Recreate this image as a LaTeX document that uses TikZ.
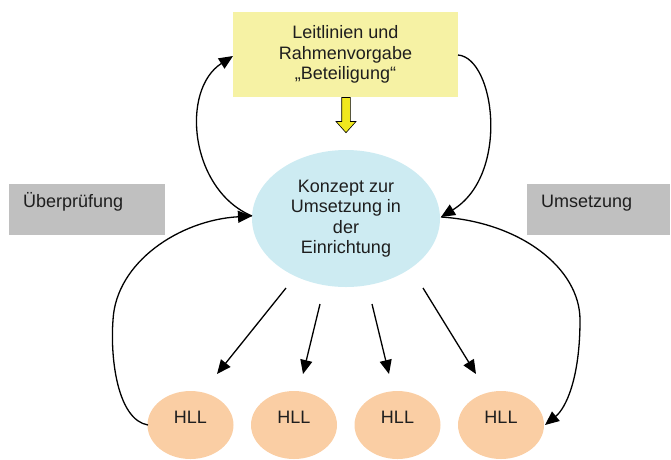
\documentclass[tikz,border=0pt]{standalone}
\usepackage{fontspec}
\setmainfont{Liberation Sans}
\usetikzlibrary{arrows.meta,shapes.geometric}
\definecolor{boxyellow}{RGB}{246,242,164}
\definecolor{arrowyellow}{RGB}{240,232,30}
\definecolor{conceptblue}{RGB}{205,235,242}
\definecolor{hllorange}{RGB}{250,206,164}
\definecolor{boxgrey}{RGB}{192,192,192}
\definecolor{txt}{RGB}{30,30,30}
\begin{document}
\begin{tikzpicture}[x=1pt,y=-1pt,
  every node/.style={text=txt,font=\fontsize{18}{20.5}\selectfont},
  guidebox/.style={draw=none,fill=boxyellow,minimum width=225pt,minimum height=85pt,align=center,inner sep=0pt},
  greybox/.style={draw=none,fill=boxgrey,minimum height=51pt,inner sep=0pt},
  concept/.style={ellipse,fill=conceptblue,minimum width=188pt,minimum height=137pt,align=center,inner sep=0pt},
  hll/.style={ellipse,fill=hllorange,minimum width=86pt,minimum height=68pt,inner sep=0pt,text height=13pt,text depth=17pt},
  greytext/.style={anchor=base west,inner sep=0pt},
  conn/.style={line width=1.3pt,draw=black,-{Triangle[length=14pt,width=12pt]}},
  plain/.style={line width=1.3pt,draw=black}]
\useasboundingbox (0,0) rectangle (671,459);
% boxes
\node[guidebox] (Y) at (345.5,54.5) {Leitlinien und\\Rahmenvorgabe\\„Beteiligung“};
\node[greybox,minimum width=156pt] (G1) at (87,209.5) {};
\node[greytext] (T1) at (23,207) {Überprüfung};
\node[greybox,minimum width=143pt] (G2) at (598.5,209.5) {};
\node[greytext] (T2) at (541,207) {Umsetzung};
\node[concept] (K) at (346,218.5) {Konzept zur\\Umsetzung in\\der\\Einrichtung};
\node[hll] (H1) at (190.5,425) {HLL};
\node[hll] (H2) at (294,425) {HLL};
\node[hll] (H3) at (397.5,425) {HLL};
\node[hll] (H4) at (501,425) {HLL};
% yellow arrow
\draw[fill=arrowyellow,draw=black,line width=0.6pt]
  (341.7,97.5) -- (350.3,97.5) -- (350.3,121.5) -- (356,121.5) -- (346,132.7)
  -- (336,121.5) -- (341.7,121.5) -- cycle;
% coordinates
\coordinate (KL) at (252,216);
\coordinate (KR) at (441,217);
\coordinate (YL) at (233,56);
\coordinate (YR) at (458,55);
\coordinate (H1L) at (148,425);
\coordinate (H4R) at (545,425);
\coordinate (s1) at (286,288);
\coordinate (e1) at (217,374);
\coordinate (s2) at (320,304);
\coordinate (e2) at (303,374);
\coordinate (s3) at (372,304);
\coordinate (e3) at (389,374);
\coordinate (s4) at (423,288);
\coordinate (e4) at (476,374);
% down arrows
\draw[conn] (s1) -- (e1);
\draw[conn] (s2) -- (e2);
\draw[conn] (s3) -- (e3);
\draw[conn] (s4) -- (e4);
% loops
\draw[conn] (KL) .. controls (190,190) and (180,90) .. (YL);
\draw[conn] (H1L) .. controls (118,420) and (110,360) .. (113,320)
  .. controls (116,262) and (180,220) .. (KL);
\draw[conn] (YR) .. controls (495,58) and (510,175) .. (KR);
\draw[conn] (KR) .. controls (520,222) and (580,268) .. (580,320)
  .. controls (580,378) and (566,408) .. (H4R);
\end{tikzpicture}
\end{document}
